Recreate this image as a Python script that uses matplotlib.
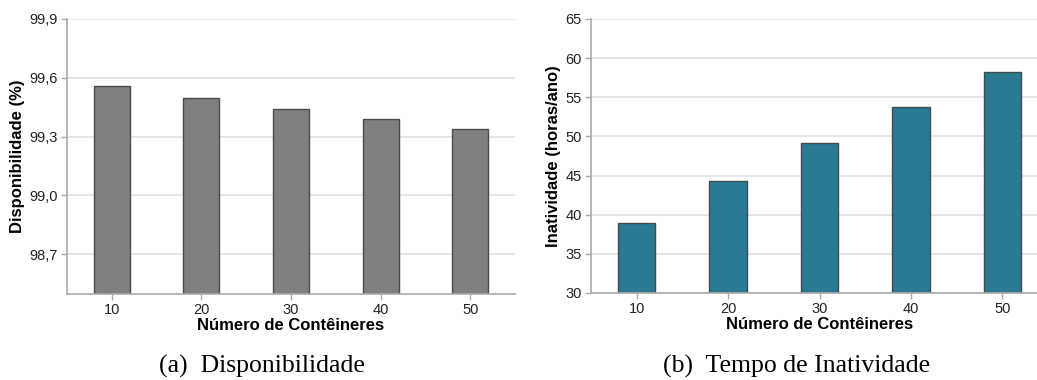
import numpy as np
import matplotlib
matplotlib.use('Agg')
import matplotlib.pyplot as plt

# dados
containers = ['10', '20', '30', '40', '50']
disponibilidade = [99.557, 99.495, 99.44, 99.389, 99.336]
inatividade = [39.0, 44.3, 49.15, 53.8, 58.25]

disp_ticks = [98.7, 99.0, 99.3, 99.6, 99.9]
disp_labels = ['98,7', '99,0', '99,3', '99,6', '99,9']
inat_ticks = [30, 35, 40, 45, 50, 55, 60, 65]

plt.rcParams['font.family'] = ['Liberation Sans', 'DejaVu Sans']

fig = plt.figure(figsize=(10.37, 3.8), dpi=100)
W, H = 1037, 380

def style(ax):
    for s in ['top', 'right']:
        ax.spines[s].set_visible(False)
    for s in ['left', 'bottom']:
        ax.spines[s].set_color('#aaaaaa')
        ax.spines[s].set_linewidth(1.2)
    ax.tick_params(axis='both', colors='#aaaaaa', labelcolor='#222222',
                   labelsize=10.5, length=4, width=1, pad=2.5)
    ax.yaxis.grid(True, color='#e2e2e2', linewidth=1.2)
    ax.set_axisbelow(True)
    ax.set_xlim(-0.5, 4.5)
    ax.set_xlabel('Número de Contêineres', fontsize=12, fontweight='bold', labelpad=1)

x = np.arange(len(containers))

ax1 = fig.add_axes([67 / W, 1 - 294 / H, (515 - 67) / W, (294 - 19) / H])
ax1.bar(x, disponibilidade, width=0.4, color='#808080', edgecolor='#4a4a4a', linewidth=1)
ax1.set_ylim(98.496, 99.9)
ax1.set_yticks(disp_ticks)
ax1.set_yticklabels(disp_labels)
ax1.set_xticks(x)
ax1.set_xticklabels(containers)
ax1.set_ylabel('Disponibilidade (%)', fontsize=12, fontweight='bold', labelpad=3)
style(ax1)

ax2 = fig.add_axes([591 / W, 1 - 293 / H, (1048 - 591) / W, (293 - 19) / H])
ax2.bar(x, inatividade, width=0.41, color='#2a7a92', edgecolor='#404a50', linewidth=1)
ax2.set_ylim(30, 65)
ax2.set_yticks(inat_ticks)
ax2.set_xticks(x)
ax2.set_xticklabels(containers)
ax2.set_ylabel('Inatividade (horas/ano)', fontsize=12, fontweight='bold', labelpad=3)
style(ax2)

fig.text(262 / W, 1 - 366 / H, '(a)  Disponibilidade', ha='center', va='center',
         family='Liberation Serif', fontsize=18.5)
fig.text(797 / W, 1 - 366 / H, '(b)  Tempo de Inatividade', ha='center', va='center',
         family='Liberation Serif', fontsize=18.5)

fig.savefig('out.png', dpi=100)
